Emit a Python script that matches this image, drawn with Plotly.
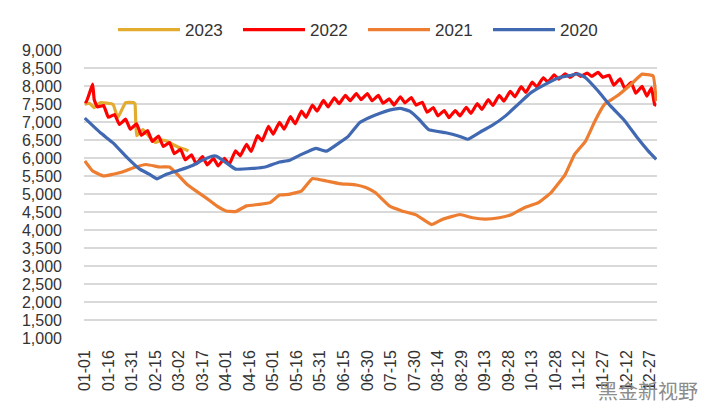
import plotly.graph_objects as go

# x positions are day-of-year indices (0 = 01-01, non-leap year)
tick_days = [0, 15, 30, 45, 60, 75, 90, 105, 120, 135, 150, 165, 180, 195, 210, 225,
             240, 255, 270, 285, 300, 315, 330, 345, 360]
tick_labels = ["01-01", "01-16", "01-31", "02-15", "03-02", "03-17", "04-01", "04-16",
               "05-01", "05-16", "05-31", "06-15", "06-30", "07-15", "07-30", "08-14",
               "08-29", "09-13", "09-28", "10-13", "10-28", "11-12", "11-27", "12-12", "12-27"]
y_ticks = list(range(1000, 9001, 500))

# 2023
days_2023 = [0, 3, 6, 10, 18, 21, 26, 31, 32, 33, 37, 39, 42, 45, 49, 52, 56, 60, 64, 66]
vals_2023 = [7490, 7520, 7400, 7540, 7490, 7120, 7540, 7540, 7500, 6620, 6790, 6700, 6550,
             6430, 6500, 6470, 6380, 6290, 6240, 6190]

# 2022
days_2022 = [0, 1, 5, 6, 8, 12, 15, 19, 22, 26, 29, 33, 36, 40, 43, 47, 50, 54, 57, 61,
             64, 68, 71, 75, 78, 82, 85, 89, 92, 96, 99, 103, 106, 110, 113, 117, 120, 124,
             127, 131, 134, 138, 141, 145, 148, 152, 155, 159, 162, 166, 169, 173, 176, 180,
             183, 187, 190, 194, 197, 201, 204, 208, 211, 215, 218, 222, 225, 229, 232, 236,
             239, 243, 246, 250, 253, 257, 260, 264, 267, 271, 274, 278, 281, 285, 288, 292,
             295, 299, 302, 306, 309, 313, 316, 320, 323, 327, 330, 334, 337, 341, 344, 348,
             351, 355, 358, 361, 363, 364]
vals_2022 = [7580, 7560, 8050, 7620, 7420, 7460, 7130, 7210, 6930, 7080, 6800, 6950, 6630,
             6760, 6460, 6610, 6320, 6430, 6120, 6240, 5950, 6090, 5840, 6040, 5810, 5990,
             5780, 5990, 5820, 6200, 6060, 6380, 6180, 6620, 6480, 6880, 6660, 6990, 6800,
             7150, 6950, 7300, 7130, 7470, 7300, 7600, 7420, 7670, 7510, 7740, 7590, 7790,
             7620, 7790, 7590, 7740, 7520, 7640, 7470, 7700, 7530, 7680, 7470, 7550, 7270,
             7400, 7170, 7320, 7120, 7320, 7170, 7410, 7240, 7510, 7350, 7620, 7460, 7740,
             7580, 7850, 7700, 7980, 7820, 8110, 7970, 8230, 8110, 8310, 8190, 8340, 8240,
             8350, 8270, 8360, 8270, 8380, 8240, 8300, 8020, 8200, 7930, 8100, 7800, 7990,
             7720, 7950, 7480, 7470]

# 2021
days_2021 = [0, 5, 12, 18, 24, 31, 39, 48, 54, 58, 65, 71, 77, 84, 90, 96, 103, 111, 118,
             124, 130, 138, 145, 154, 162, 173, 179, 185, 194, 202, 211, 221, 228, 239, 247,
             255, 264, 272, 280, 289, 297, 306, 312, 319, 325, 331, 339, 348, 355, 362, 364]
vals_2021 = [5920, 5640, 5500, 5550, 5610, 5730, 5820, 5750, 5750, 5590, 5270, 5080, 4900,
             4670, 4530, 4510, 4670, 4710, 4760, 4970, 4990, 5080, 5430, 5360, 5290, 5250,
             5180, 5040, 4670, 4530, 4420, 4150, 4300, 4430, 4340, 4300, 4340, 4430, 4620,
             4760, 5040, 5540, 6100, 6470, 7030, 7490, 7720, 8050, 8330, 8280, 7580]

# 2020
days_2020 = [0, 10, 18, 27, 35, 41, 46, 52, 60, 69, 75, 81, 84, 90, 96, 107, 115, 124, 130,
             138, 147, 154, 162, 168, 175, 181, 189, 194, 201, 207, 213, 219, 230, 238, 244,
             253, 259, 268, 276, 284, 293, 302, 310, 314, 319, 327, 335, 344, 352, 359, 364]
vals_2020 = [7110, 6700, 6420, 6010, 5690, 5550, 5420, 5550, 5660, 5800, 5940, 6050, 6050,
             5870, 5690, 5710, 5750, 5890, 5930, 6100, 6270, 6190, 6420, 6610, 6980, 7120,
             7260, 7330, 7380, 7300, 7070, 6790, 6700, 6610, 6520, 6750, 6890, 7170, 7490,
             7810, 8040, 8230, 8300, 8340, 8230, 7860, 7440, 7030, 6560, 6190, 5960]

series = [
    ("2023", days_2023, vals_2023, "#E3AC2F"),
    ("2022", days_2022, vals_2022, "#FF0000"),
    ("2021", days_2021, vals_2021, "#ED7D31"),
    ("2020", days_2020, vals_2020, "#4169B2"),
]

fig = go.Figure()
for name, xs, ys, color in series:
    fig.add_trace(go.Scatter(x=xs, y=ys, name=name, mode="lines",
                             line=dict(color=color, width=3.2, shape="spline", smoothing=0.3)))

L, R, T, B = 84, 45, 50, 82
PW, PH = 702 - L - R, 420 - T - B

font_family = "Liberation Sans, Arial, sans-serif"
fig.update_layout(
    width=702, height=420,
    margin=dict(l=L, r=R, t=T, b=B, autoexpand=False),
    paper_bgcolor="white", plot_bgcolor="white",
    font=dict(family=font_family, size=16, color="#333333"),
    showlegend=True,
    legend=dict(orientation="h", x=(113 - L) / PW, xanchor="left", y=1 + 20 / PH,
                yanchor="middle", font=dict(size=17, color="#333333"),
                entrywidth=48, itemwidth=62, traceorder="normal", bgcolor="rgba(0,0,0,0)"),
    xaxis=dict(range=[-0.5, 364.5], tickmode="array", tickvals=tick_days, ticktext=tick_labels,
               tickangle=-90, showgrid=False, zeroline=False, showline=False, ticks="",
               ticklabelstandoff=8, tickfont=dict(size=16, color="#333333")),
    yaxis=dict(range=[1000, 9000], tickmode="array", tickvals=y_ticks,
               ticktext=[f"{v:,}" for v in y_ticks], showgrid=True, gridcolor="#D9D9D9",
               gridwidth=1.6, zeroline=False, showline=False, ticks="",
               ticklabelstandoff=21, tickfont=dict(size=16, color="#333333")),
    annotations=[dict(text="黑金新视野", x=(700 - L) / PW, y=(338 - 390) / PH,
                      xref="paper", yref="paper", showarrow=False,
                      xanchor="right", yanchor="middle",
                      font=dict(family="Noto Sans CJK SC", size=20, color="#8c8c8c"))],
)

fig.write_html("out.html", config={"displayModeBar": False},
               post_script="document.body.style.margin='0';document.body.style.padding='0';")
